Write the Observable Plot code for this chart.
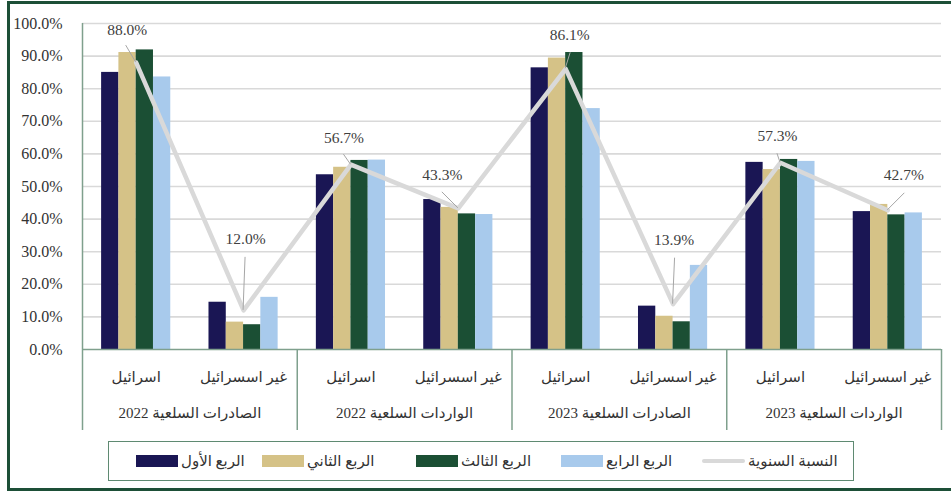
<!DOCTYPE html>
<html>
<head>
<meta charset="utf-8">
<script src="https://cdn.jsdelivr.net/npm/d3@7"></script>
<script src="https://cdn.jsdelivr.net/npm/@observablehq/plot@0.6"></script>
<style>
  html, body { margin: 0; padding: 0; background: #fff; }
  body { width: 951px; height: 493px; overflow: hidden; position: relative; }
  #frame { position: absolute; left: 7px; top: 1px; width: 960px; height: 490px; box-sizing: border-box; border: 3px solid #1d4f37; }
  #chart { position: absolute; left: 0; top: 0; }
  #legend { position: absolute; left: 108px; top: 441px; width: 746px; height: 40px; box-sizing: border-box;
    border: 1.5px solid #5f8a72;
    font-family: "Liberation Serif", "DejaVu Sans", serif; font-size: 15px; color: #333; }
  .item { position: absolute; top: 0; height: 37px; display: flex; direction: ltr; align-items: center; gap: 3px; white-space: nowrap; }
  .sw { width: 42px; height: 12px; }
  .ln { width: 43px; height: 4px; border-radius: 2px; background: #d9d9d9; }
</style>
</head>
<body>
<div id="frame"></div>
<div id="chart"></div>
<div id="legend"></div>
<script>
// ---- data ----
const categories = ["اسرائيل", "غير اسسرائيل", "اسرائيل", "غير اسسرائيل", "اسرائيل", "غير اسسرائيل", "اسرائيل", "غير اسسرائيل"];
const groups = ["الصادرات السلعية 2022", "الواردات السلعية 2022", "الصادرات السلعية 2023", "الواردات السلعية 2023"];
const quarters = ["الربع الأول", "الربع الثاني", "الربع الثالث", "الربع الرابع"];
const annualName = "النسبة السنوية";
const q1 = [85.0, 14.5, 53.6, 46.0, 86.4, 13.3, 57.4, 42.3];
const q2 = [91.1, 8.4, 55.9, 43.6, 89.4, 10.2, 55.2, 44.5];
const q3 = [91.9, 7.6, 58.0, 41.6, 91.1, 8.5, 58.3, 41.3];
const q4 = [83.6, 16.0, 58.1, 41.4, 73.9, 25.8, 57.7, 41.9];
const annual = [88.0, 12.0, 56.7, 43.3, 86.1, 13.9, 57.3, 42.7];
const yTicks = [0, 10, 20, 30, 40, 50, 60, 70, 80, 90, 100];

// ---- style ----
const colors = ["#1a1654", "#d5c287", "#1b4f34", "#a8caec"];
const lineColor = "#d9d9d9";
const axisColor = "#7fa08d";
const font = '"Liberation Serif", "DejaVu Sans", serif';
// label nudges in pixels [dx, dy] and leader start offsets [lx, ly]
const labelNudge = [[-9, -33], [2, -71], [-7, -27], [-16, -33], [4, -34], [1, -64], [-3, -27], [16, -35]];
const leaderStart = [[-10, -17], [2, -53], [-7, -10], [-16, -16], [5, -16], [2, -46], [-3, -9], [17, -17]];
// legend swatch left offsets inside the legend box (Q1..Q4, annual)
const legendLeft = [27, 153, 307, 452, 593];

const series = [q1, q2, q3, q4];
const rows = [];
series.forEach((arr, q) => arr.forEach((v, i) => rows.push({cat: i, q, value: v})));
const bw = 0.161;
const lineData = annual.map((v, i) => ({x: i + 0.5, y: v, label: v.toFixed(1) + "%", i}));

const labelMarks = lineData.map((d, i) => Plot.text([d], {
  x: "x", y: "y", text: "label", dx: labelNudge[i][0], dy: labelNudge[i][1],
  fontSize: 15.5, fill: "#404040", fontFamily: font
}));

const plot = Plot.plot({
  width: 951,
  height: 440,
  marginLeft: 82,
  marginRight: 10,
  marginTop: 23,
  marginBottom: 91,
  style: {fontFamily: font, background: "transparent", overflow: "visible"},
  x: {domain: [0, 8]},
  y: {domain: [0, 100]},
  color: {domain: quarters, range: colors},
  marks: [
    Plot.ruleY(yTicks.slice(1), {stroke: lineColor, strokeWidth: 1.6}),
    Plot.rectY(rows, {
      x1: d => d.cat + 0.5 + (d.q - 2) * bw,
      x2: d => d.cat + 0.5 + (d.q - 1) * bw,
      y: "value",
      fill: d => quarters[d.q]
    }),
    Plot.ruleX([0], {y1: 0, y2: 100, stroke: axisColor, strokeWidth: 1.5}),
    Plot.ruleY([0], {stroke: axisColor, strokeWidth: 1.5}),
    Plot.axisY(yTicks, {tickSize: 0, tickPadding: 20, tickFormat: d => d.toFixed(1) + "%", fontSize: 16, fill: "#333", label: null}),
    Plot.axisX(categories.map((c, i) => i + 0.5), {tickSize: 0, tickPadding: 22, tickFormat: (d) => categories[Math.floor(d)], fontSize: 15, fill: "#333", label: null}),
    Plot.axisX(groups.map((g, i) => 2 * i + 1), {tickSize: 0, tickPadding: 58, tickFormat: (d) => groups[(d - 1) / 2], fontSize: 15, fill: "#333", label: null}),
    Plot.axisX([0, 2, 4, 6, 8], {tickSize: 81, tickFormat: () => "", stroke: axisColor, strokeWidth: 1.5, label: null}),
    Plot.line(lineData, {x: "x", y: "y", stroke: lineColor, strokeWidth: 4.5}),
    ...labelMarks
  ]
});
document.getElementById("chart").appendChild(plot);

// leader lines, placed with the plot's own scales
const sx = plot.scale("x"), sy = plot.scale("y");
const svg = d3.select(plot);
const g = svg.append("g").attr("stroke", "#a6a6a6").attr("stroke-width", 1);
lineData.forEach((d, i) => {
  const px = sx.apply(d.x), py = sy.apply(d.y);
  g.append("line")
    .attr("x1", px + leaderStart[i][0]).attr("y1", py + leaderStart[i][1])
    .attr("x2", px).attr("y2", py);
});
svg.selectAll("g[aria-label='text']").raise();

// legend
const legend = d3.select("#legend");
quarters.forEach((name, k) => {
  const it = legend.append("div").attr("class", "item").style("left", legendLeft[k] + "px");
  it.append("div").attr("class", "sw").style("background", colors[k]);
  it.append("span").attr("dir", "rtl").text(name);
});
const li = legend.append("div").attr("class", "item").style("left", legendLeft[4] + "px");
li.append("div").attr("class", "ln");
li.append("span").attr("dir", "rtl").text(annualName);
</script>
</body>
</html>
